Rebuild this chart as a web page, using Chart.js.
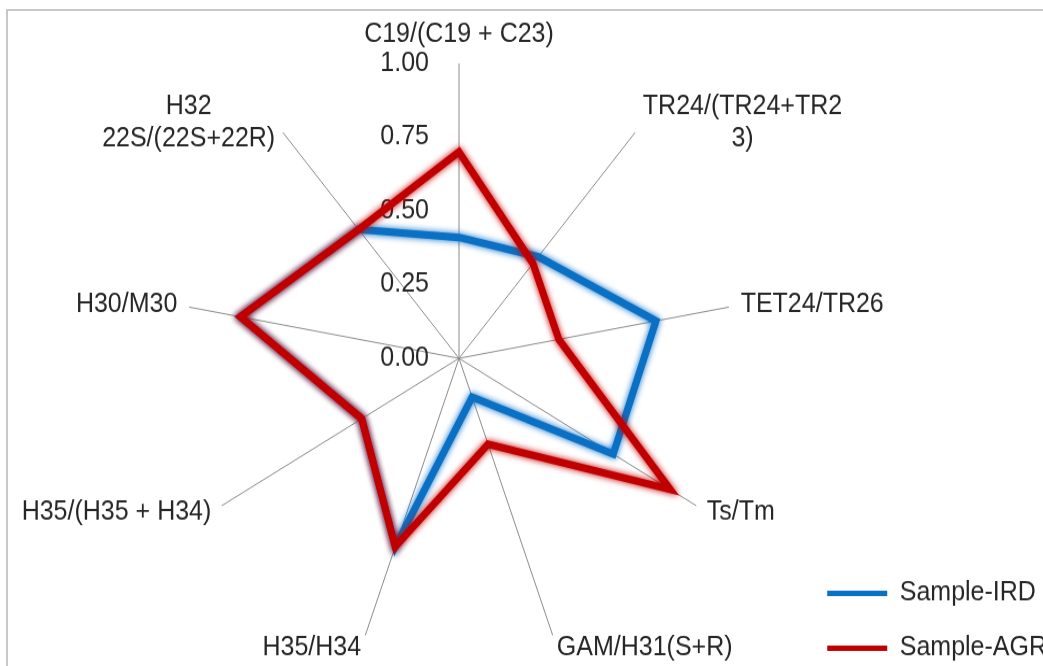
<!DOCTYPE html>
<html>
<head>
<meta charset="utf-8">
<script src="https://cdn.jsdelivr.net/npm/chart.js@4.4.1/dist/chart.umd.min.js"></script>
<style>
  html, body { margin: 0; padding: 0; background: #fff; overflow: hidden; }
  #frame { position: absolute; left: 6px; top: 9px; width: 1100px; height: 700px; border: 2px solid #c8c8c8; }
  /* the source picture is stretched a bit vertically, so the circle becomes an ellipse */
  #wrap { position: absolute; left: 0; top: 0; width: 1043px; height: 619px; transform: scaleY(1.0759); transform-origin: 0 0; }
</style>
</head>
<body>
<div id="frame"></div>
<div id="wrap"><canvas id="radar"></canvas></div>
<script>
  const categories = [
    'C19/(C19 + C23)',
    ['TR24/(TR24+TR2', '3)'],
    'TET24/TR26',
    'Ts/Tm',
    'GAM/H31(S+R)',
    'H35/H34',
    'H35/(H35 + H34)',
    'H30/M30',
    ['H32', '22S/(22S+22R)']
  ];
  const sampleIRD = [0.41, 0.45, 0.73, 0.65, 0.14, 0.68, 0.41, 0.81, 0.57];
  const sampleAGR = [0.70, 0.42, 0.37, 0.89, 0.31, 0.68, 0.41, 0.81, 0.57];
  const tickLabels = ['0.00', '0.25', '0.50', '0.75', '1.00'];

  const textColor = '#262626';
  const font = '25px "Liberation Sans", Arial, sans-serif';

  // soft halo round the lines, like the Excel glow effect
  const glow = {
    id: 'glow',
    beforeDatasetDraw(chart, args) {
      const ctx = chart.ctx;
      ctx.save();
      ctx.shadowColor = args.meta.dataset.options.borderColor;
      ctx.shadowBlur = 6;
    },
    afterDatasetDraw(chart) {
      chart.ctx.restore();
    }
  };

  // axis names and tick values, placed the way Excel does it
  const axisText = {
    id: 'axisText',
    beforeDatasetsDraw(chart) {
      const r = chart.scales.r;
      const ctx = chart.ctx;
      const lh = 30;
      ctx.save();
      ctx.font = font;
      ctx.fillStyle = textColor;
      ctx.textBaseline = 'middle';
      ctx.textAlign = 'center';
      chart.data.labels.forEach((label, i) => {
        const lines = [].concat(label);
        const deg = Math.round(r.getIndexAngle(i) * 180 / Math.PI);
        const p = r.getPointPosition(i, r.drawingArea + 12);
        const w = Math.max(...lines.map(s => ctx.measureText(s).width));
        const h = lines.length * lh;
        let cx = p.x;
        let top = p.y - h / 2;
        if (deg === 0) top = p.y - h;
        else if (deg < 180) cx = p.x + w / 2;
        else cx = p.x - w / 2;
        lines.forEach((s, k) => ctx.fillText(s, cx, top + lh / 2 + k * lh));
      });
      ctx.textAlign = 'right';
      r.ticks.forEach(t => {
        ctx.fillText(t.label, r.xCenter - 30, r.yCenter - r.getDistanceFromCenterForValue(t.value));
      });
      ctx.restore();
    }
  };

  new Chart(document.getElementById('radar'), {
    type: 'radar',
    data: {
      labels: categories,
      datasets: [{
        label: 'Sample-AGR',
        data: sampleAGR,
        borderColor: '#c00000',
        backgroundColor: '#c00000',
        borderWidth: 7,
        borderCapStyle: 'round',
        pointRadius: 0,
        fill: false
      }, {
        label: 'Sample-IRD',
        data: sampleIRD,
        borderColor: '#0a70c4',
        backgroundColor: '#0a70c4',
        borderWidth: 7,
        borderCapStyle: 'round',
        pointRadius: 0,
        fill: false
      }]
    },
    options: {
      responsive: true,
      maintainAspectRatio: false,
      animation: false,
      layout: { padding: { left: 0, top: 0, right: -14, bottom: -22 } },
      plugins: {
        tooltip: { enabled: false },
        legend: {
          position: 'right',
          align: 'end',
          reverse: true,
          labels: {
            usePointStyle: true,
            pointStyle: 'line',
            pointStyleWidth: 60,
            padding: 26,
            color: textColor,
            font: { family: '"Liberation Sans", Arial, sans-serif', size: 25 },
            generateLabels(chart) {
              return Chart.defaults.plugins.legend.labels.generateLabels(chart)
                .map(item => Object.assign(item, { lineWidth: 5 }));
            }
          }
        }
      },
      scales: {
        r: {
          min: 0,
          max: 1,
          ticks: {
            display: false,
            stepSize: 0.25,
            callback: (v, i) => tickLabels[i]
          },
          grid: { display: false },
          angleLines: { display: true, color: '#8a8a8a', lineWidth: 1 },
          pointLabels: { display: false },
          afterFit(scale) {
            scale.xCenter = 459;
            scale.yCenter = 333;
            scale.drawingArea = 274;
          }
        }
      }
    },
    plugins: [glow, axisText]
  });
</script>
</body>
</html>
